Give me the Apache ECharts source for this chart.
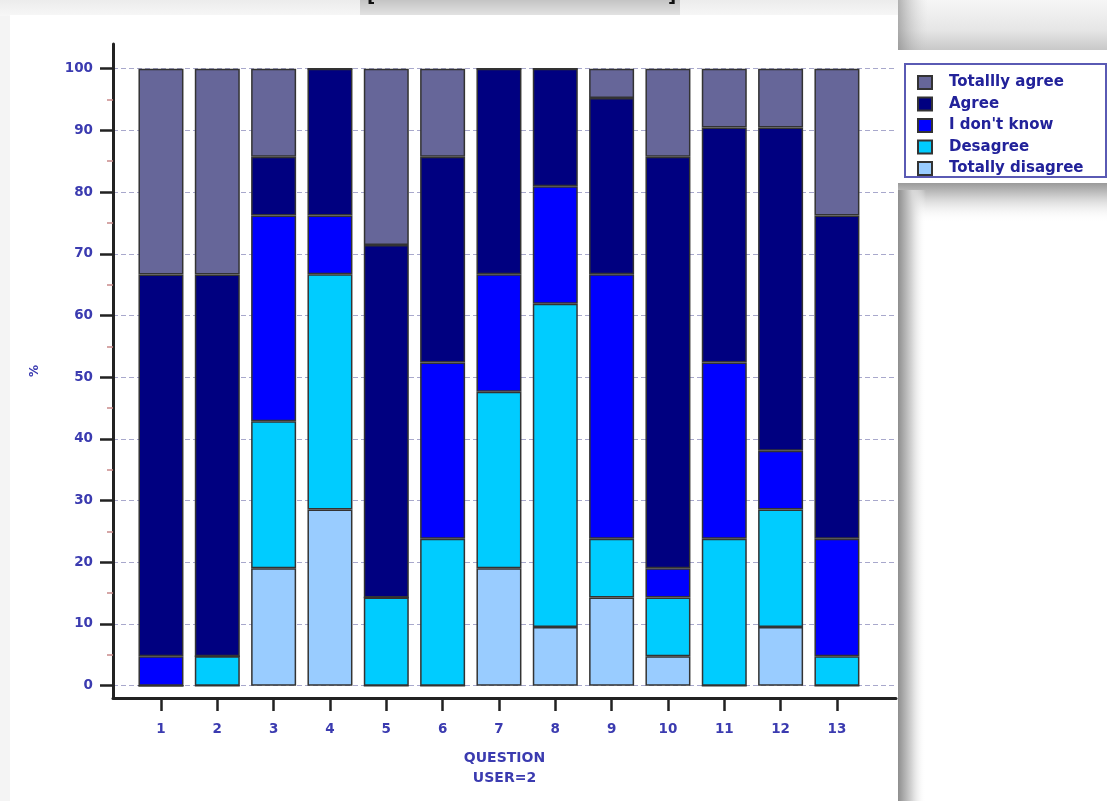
<!DOCTYPE html>
<html>
<head>
<meta charset="utf-8">
<script src="https://cdn.jsdelivr.net/npm/echarts@6/dist/echarts.min.js"></script>
<style>
  html, body { margin: 0; padding: 0; background: #ffffff; }
  #chart { width: 1107px; height: 801px; }
</style>
</head>
<body>
<div id="chart"></div>
<script>
// ---- data (percent of respondents) ----
const categories = ['1','2','3','4','5','6','7','8','9','10','11','12','13'];
const totallyDisagree = [0, 0, 19.05, 28.57, 0, 0, 19.05, 9.52, 14.29, 4.76, 0, 9.52, 0];
const desagree        = [0, 4.76, 23.81, 38.10, 14.29, 23.81, 28.57, 52.38, 9.52, 9.52, 23.81, 19.05, 4.76];
const dontKnow        = [4.76, 0, 33.33, 9.52, 0, 28.57, 19.05, 19.05, 42.86, 4.76, 28.57, 9.52, 19.05];
const agree           = [61.90, 61.90, 9.52, 23.81, 57.14, 33.33, 33.33, 19.05, 28.57, 66.67, 38.10, 52.38, 52.38];
const totallyAgree    = [33.33, 33.33, 14.29, 0, 28.57, 14.29, 0, 0, 4.76, 14.29, 9.52, 9.52, 23.81];
const majorTicks = [0, 10, 20, 30, 40, 50, 60, 70, 80, 90, 100];
const minorTicks = [5, 15, 25, 35, 45, 55, 65, 75, 85, 95];
const legendOrder = ['Totallly agree', 'Agree', "I don't know", 'Desagree', 'Totally disagree'];

const FONT = 'DejaVu Sans';
const LABEL_COLOR = '#3b3bb0';
const BORDER = '#333333';

const chart = echarts.init(document.getElementById('chart'), null, { renderer: 'canvas' });

function barSeries(name, data, color) {
  return {
    name: name, type: 'bar', stack: 'all', data: data,
    xAxisIndex: 1, yAxisIndex: 2,
    barWidth: 45,
    itemStyle: { color: color, borderColor: BORDER, borderWidth: 1.5 },
    emphasis: { disabled: true },
    z: 3
  };
}

const option = {
  animation: false,
  backgroundColor: '#ffffff',
  textStyle: { fontFamily: FONT },
  grid: [
    { left: 113, top: 44, width: 783, height: 654, containLabel: false },
    { left: 132.8, top: 44, width: 732.3, height: 654, containLabel: false }
  ],
  xAxis: [
    {
      gridIndex: 0, type: 'value', min: 0, max: 1, position: 'bottom',
      axisLine: { show: true, onZero: false, lineStyle: { color: '#222', width: 3 } },
      axisTick: { show: false }, axisLabel: { show: false }, splitLine: { show: false },
      name: 'QUESTION\nUSER=2', nameLocation: 'middle', nameGap: 50,
      nameTextStyle: { color: LABEL_COLOR, fontFamily: FONT, fontWeight: 'bold', fontSize: 14, lineHeight: 20 }
    },
    {
      gridIndex: 1, type: 'category', data: categories, position: 'bottom',
      axisLine: { show: false, onZero: false },
      axisTick: { show: true, alignWithLabel: true, length: 13, lineStyle: { color: '#222', width: 2.5 } },
      axisLabel: { color: LABEL_COLOR, fontFamily: FONT, fontWeight: 'bold', fontSize: 13.5, margin: 24 },
      splitLine: { show: false }
    }
  ],
  yAxis: [
    {
      gridIndex: 0, type: 'value', min: -2, max: 104, position: 'left',
      axisLine: { show: true, onZero: false, lineStyle: { color: '#222', width: 3 } },
      axisTick: { show: true, length: 13, customValues: majorTicks, lineStyle: { color: '#222', width: 2.5 } },
      axisLabel: { show: true, customValues: majorTicks, color: LABEL_COLOR, fontFamily: FONT, fontWeight: 'bold', fontSize: 13.5, margin: 20 },
      splitLine: { show: true, lineStyle: { color: '#a8a8cc', width: 1, type: [5, 3] } },
      name: '%', nameLocation: 'middle', nameGap: 72, nameRotate: 90,
      nameTextStyle: { color: LABEL_COLOR, fontFamily: FONT, fontWeight: 'bold', fontSize: 12 }
    },
    {
      gridIndex: 0, type: 'value', min: -2, max: 104, position: 'left', offset: 0,
      axisLine: { show: false, onZero: false },
      axisTick: { show: true, length: 6, customValues: minorTicks, lineStyle: { color: '#c98a8a', width: 1.5 } },
      axisLabel: { show: false }, splitLine: { show: false }
    },
    {
      gridIndex: 1, type: 'value', min: -2, max: 104, show: false,
      splitLine: { show: false }
    }
  ],
  legend: {
    show: true, orient: 'vertical', left: 917, top: 75, padding: 0,
    data: legendOrder,
    itemWidth: 14, itemHeight: 13, itemGap: 6.5,
    icon: 'rect',
    selectedMode: false,
    textStyle: { color: '#22229a', fontFamily: FONT, fontWeight: 'bold', fontSize: 15, lineHeight: 13, padding: [0, 0, 0, 12] }
  },
  graphic: [
    // screenshot background: margins and drop shadows
    { type: 'rect', z: -20, shape: { x: 0, y: 0, width: 1107, height: 801 }, style: { fill: '#f4f4f4' } },
    { type: 'rect', z: -19, shape: { x: 0, y: 0, width: 1107, height: 16 },
      style: { fill: new echarts.graphic.LinearGradient(0, 0, 0, 1, [{ offset: 0, color: '#ececec' }, { offset: 1, color: '#f7f7f7' }]) } },
    { type: 'rect', z: -18, shape: { x: 360, y: 0, width: 320, height: 15 },
      style: { fill: new echarts.graphic.LinearGradient(0, 0, 0, 1, [{ offset: 0, color: '#c4c4c4' }, { offset: 1, color: '#e2e2e2' }]) } },
    { type: 'text', z: -17, style: { x: 367, y: -12, text: '[', fill: '#111', font: 'bold 18px DejaVu Sans' } },
    { type: 'text', z: -17, style: { x: 668, y: -12, text: ']', fill: '#111', font: 'bold 18px DejaVu Sans' } },
    { type: 'rect', z: -16, shape: { x: 898, y: 0, width: 209, height: 50 },
      style: { fill: new echarts.graphic.LinearGradient(0, 0, 0, 1, [{ offset: 0, color: '#f6f6f6' }, { offset: 0.6, color: '#e6e6e6' }, { offset: 1, color: '#c8c8c8' }]) } },
    { type: 'rect', z: -15, shape: { x: 898, y: 0, width: 30, height: 50 },
      style: { fill: new echarts.graphic.LinearGradient(0, 0, 1, 0, [{ offset: 0, color: 'rgba(120,120,120,0.55)' }, { offset: 1, color: 'rgba(200,200,200,0)' }]) } },
    { type: 'rect', z: -16, shape: { x: 898, y: 50, width: 209, height: 133 }, style: { fill: '#ffffff' } },
    { type: 'rect', z: -16, shape: { x: 898, y: 183, width: 209, height: 618 }, style: { fill: '#ffffff' } },
    { type: 'rect', z: -15, shape: { x: 898, y: 183, width: 209, height: 40 },
      style: { fill: new echarts.graphic.LinearGradient(0, 0, 0, 1, [{ offset: 0, color: '#9a9a9a' }, { offset: 0.35, color: '#cfcfcf' }, { offset: 1, color: 'rgba(255,255,255,0)' }]) } },
    { type: 'rect', z: -14, shape: { x: 898, y: 190, width: 28, height: 611 },
      style: { fill: new echarts.graphic.LinearGradient(0, 0, 1, 0, [{ offset: 0, color: '#8e8e8e' }, { offset: 0.5, color: '#d6d6d6' }, { offset: 1, color: 'rgba(255,255,255,0)' }]) } },
    { type: 'rect', z: -13, shape: { x: 10, y: 15, width: 888, height: 786 }, style: { fill: '#ffffff' } },
    // legend frame
    { type: 'rect', z: 50, shape: { x: 905, y: 64, width: 201, height: 113 }, style: { fill: 'none', stroke: '#5a5ab4', lineWidth: 2 } }
  ],
  series: [
    barSeries('Totally disagree', totallyDisagree, '#99ccff'),
    barSeries('Desagree', desagree, '#00ccff'),
    barSeries("I don't know", dontKnow, '#0000ff'),
    barSeries('Agree', agree, '#000080'),
    barSeries('Totallly agree', totallyAgree, '#666699')
  ]
};

chart.setOption(option);
</script>
</body>
</html>
